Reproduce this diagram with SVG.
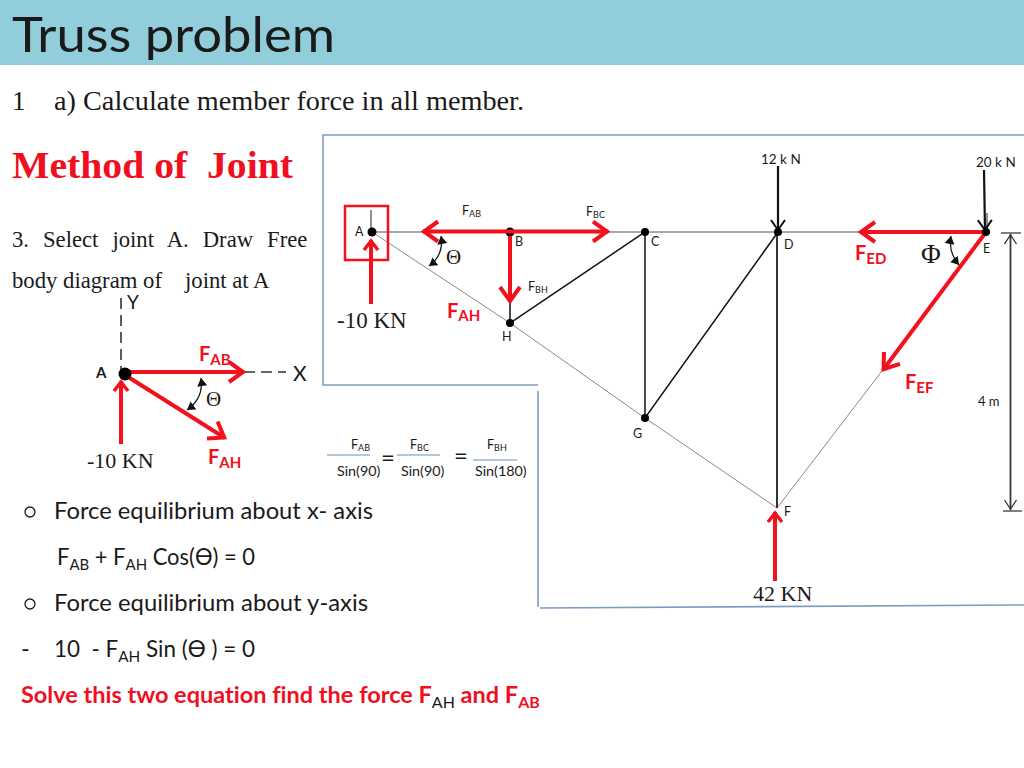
<svg xmlns="http://www.w3.org/2000/svg" width="1024" height="768" viewBox="0 0 1024 768">
<style>
.s{font-family:"Lato","Carlito","Liberation Sans",sans-serif;fill:#1a1a1a;font-variant-ligatures:none}
.t{font-family:"Liberation Serif","Times New Roman",serif;fill:#1a1a1a}
.r{fill:#f00f1e;font-weight:700}
.lb{font-size:12.5px}
.sub9{font-size:9px}
.rl{font-size:20px}
.rs{font-size:15px}
.b{font-size:23.5px}
.bs{font-size:16px}
.red{stroke:#f5101e;stroke-width:4;fill:none}
.blk{stroke:#111;fill:none}
.thin{stroke:#8a8a8a;stroke-width:1;fill:none}
.bl{stroke:#7f9bc4;stroke-width:1.6;fill:none}
.fr{stroke:#6f8fb5;stroke-width:1.2}
.jt{fill:#000}
</style>
<defs>
<marker id="rh" markerUnits="userSpaceOnUse" markerWidth="30" markerHeight="30" refX="19" refY="12" orient="auto"><path d="M4 2 L18 12 L4 22" fill="none" stroke="#f5101e" stroke-width="4"/></marker>
<marker id="rs" markerUnits="userSpaceOnUse" markerWidth="24" markerHeight="24" refX="13" refY="9" orient="auto"><path d="M3 2 L12 9 L3 16" fill="none" stroke="#f5101e" stroke-width="3.5"/></marker>
<marker id="kh" markerUnits="userSpaceOnUse" markerWidth="20" markerHeight="20" refX="13" refY="8" orient="auto"><path d="M2 1 L12 8 L2 15" fill="none" stroke="#111" stroke-width="2"/></marker>
<marker id="dh" markerUnits="userSpaceOnUse" markerWidth="16" markerHeight="16" refX="11" refY="7" orient="auto"><path d="M1 1 L10 7 L1 13" fill="none" stroke="#333" stroke-width="1.3"/></marker>
<marker id="ah" markerUnits="userSpaceOnUse" markerWidth="12" markerHeight="12" refX="8" refY="5" orient="auto"><path d="M0 0 L8 5 L0 10 Z" fill="#111"/></marker>
<marker id="as" markerUnits="userSpaceOnUse" markerWidth="12" markerHeight="12" refX="0" refY="5" orient="auto"><path d="M8 0 L0 5 L8 10 Z" fill="#111"/></marker>
</defs>
<rect width="1024" height="768" fill="#fff"/>
<rect width="1024" height="65" fill="#92cddc"/>
<text id="title" class="s" x="12" y="52" font-size="49" textLength="323" lengthAdjust="spacingAndGlyphs">Truss problem</text>
<text class="t" x="12" y="110" font-size="27">1</text>
<text class="t" x="54" y="110" font-size="27" textLength="470" lengthAdjust="spacingAndGlyphs">a) Calculate member force in all member.</text>
<text class="t" x="12" y="178" font-size="38.5" font-weight="700" style="fill:#f00f1e" textLength="281" lengthAdjust="spacingAndGlyphs" xml:space="preserve">Method of  Joint</text>
<text class="t" x="12" y="247" font-size="22.700" word-spacing="8.300" xml:space="preserve">3. Select joint A. Draw Free</text>
<text class="t" x="12" y="288" font-size="22.700">body diagram of<tspan x="185">joint at A</tspan></text>

<path class="bl" d="M1024 135 H323 V385 H538 M538 391 V607 M540 608 L1024 605"/>

<g id="node-B"><circle class="jt" cx="510" cy="232" r="4.500"/><text class="s lb" x="515" y="246">B</text></g>

<g id="connectors">
<path d="M372 232 H986" stroke="#555" stroke-width="1.2" fill="none"/>
<path class="thin" d="M372 232 L510 323 L645 418 L777 508 L882 371"/>
<path class="blk" stroke-width="1.5" d="M510 232 V323 L645 232 V418 L778 232"/>
<path stroke="#333" stroke-width="2" fill="none" d="M777 232 V508"/>
<path stroke="#555" stroke-width="1.3" fill="none" d="M371 210 V232 M987 213 V232"/>
<path d="M778 166 V231" stroke="#111" stroke-width="2.2" fill="none" marker-end="url(#kh)"/>
<path d="M984 170 L985 231" stroke="#111" stroke-width="2.2" fill="none" marker-end="url(#kh)"/>
<path d="M1001 233 H1021 M1003 511 H1022" stroke="#555" stroke-width="1.3" fill="none"/>
<path d="M1010.500 510 V234" stroke="#333" stroke-width="1.4" fill="none" marker-end="url(#dh)"/>
<path d="M1010.500 234 V510" stroke="#333" stroke-width="1.4" fill="none" marker-end="url(#dh)"/>
<rect x="345" y="206" width="43" height="54" fill="none" stroke="#f5101e" stroke-width="2.500"/>
<path class="red" d="M510 231.500 H423" marker-end="url(#rh)"/>
<path class="red" d="M510 231.500 H608" marker-end="url(#rh)"/>
<path class="red" d="M510 236 V302" marker-end="url(#rh)"/>
<path class="red" stroke-width="3.500" d="M371 304 V240" marker-end="url(#rs)"/>
<path class="red" d="M775 581 V512" marker-end="url(#rs)"/>
<path class="red" d="M985 232 H860" marker-end="url(#rh)"/>
<path class="red" d="M986 232 L883 370" marker-end="url(#rh)"/>
<path class="blk" stroke-width="1.2" d="M441 236 Q444 255 429 266" marker-start="url(#as)" marker-end="url(#ah)"/>
<path class="blk" stroke-width="1.2" d="M951 236 Q948 252 959 265" marker-start="url(#as)" marker-end="url(#ah)"/>
<path stroke="#333" stroke-width="1.600" stroke-dasharray="11 6" fill="none" d="M121 298 V372 M125 372 H286"/>
<path class="red" d="M125 372 H244" marker-end="url(#rh)"/>
<path class="red" d="M125 375 L225 438" marker-end="url(#rh)"/>
<path class="red" stroke-width="3.500" d="M121 444 V381" marker-end="url(#rs)"/>
<path class="blk" stroke-width="1.2" d="M201 378 Q204 398 187 410" marker-start="url(#as)" marker-end="url(#ah)"/>
<path class="fr" d="M327 455 H370 M397 455 H440 M473 460 H517"/>
</g>

<g id="node-A"><circle class="jt" cx="372" cy="232" r="4.500"/><text class="s lb" x="355" y="236">A</text></g>
<g id="node-C"><circle class="jt" cx="645" cy="232" r="4"/><text class="s lb" x="651" y="246">C</text></g>
<g id="node-D"><circle class="jt" cx="778" cy="232" r="4"/><text class="s lb" x="784" y="249">D</text></g>
<g id="node-E"><circle class="jt" cx="986" cy="232" r="4"/><text class="s lb" x="983" y="253">E</text></g>
<g id="node-H"><circle class="jt" cx="510" cy="323" r="4"/><text class="s lb" x="502" y="341">H</text></g>
<g id="node-G"><circle class="jt" cx="645" cy="418" r="4"/><text class="s lb" x="633" y="438">G</text></g>
<g id="node-F"><text class="s lb" x="784" y="516">F</text></g>
<g id="node-A2"><circle class="jt" cx="125" cy="374" r="6.500"/><text class="s" x="96" y="378" font-size="15" font-weight="700">A</text></g>

<g id="labels">
<text class="s" x="761" y="164" font-size="13.500">12 k N</text>
<text class="s" x="976" y="167" font-size="13.500">20 k N</text>
<text class="s lb" x="462" y="215">F<tspan class="sub9" dy="2">AB</tspan></text>
<text class="s lb" x="586" y="216">F<tspan class="sub9" dy="2">BC</tspan></text>
<text class="s lb" x="528" y="291">F<tspan class="sub9" dy="2">BH</tspan></text>
<text class="s" x="978" y="406" font-size="13">4 m</text>
<text class="t" x="446" y="264" font-size="21">Θ</text>
<text class="t" x="921" y="263" font-size="27">Φ</text>
<text class="t" x="337" y="328" font-size="23">-10 KN</text>
<text class="t" x="87" y="468" font-size="22">-10 KN</text>
<text class="t" x="753" y="601" font-size="22">42 KN</text>
<text class="t" x="206" y="406" font-size="21">Θ</text>
<text class="s" x="293" y="381" font-size="21">X</text>
<text class="s" x="127" y="309" font-size="19">Y</text>
<text class="s r rl" x="447" y="318">F<tspan class="rs" dy="3">AH</tspan></text>
<text class="s r rl" x="855" y="260">F<tspan class="rs" dy="4">ED</tspan></text>
<text class="s r rl" x="905" y="389">F<tspan class="rs" dy="4">EF</tspan></text>
<text class="s r rl" x="199" y="361">F<tspan class="rs" dy="4">AB</tspan></text>
<text class="s r rl" x="208" y="464">F<tspan class="rs" dy="4">AH</tspan></text>
<text class="s lb" x="351" y="449">F<tspan class="sub9" dy="2">AB</tspan></text>
<text class="s lb" x="410" y="449">F<tspan class="sub9" dy="2">BC</tspan></text>
<text class="s lb" x="487" y="449">F<tspan class="sub9" dy="2">BH</tspan></text>
<text class="s" x="337" y="476" font-size="14.300">Sin(90)</text>
<text class="s" x="401" y="476" font-size="14.300">Sin(90)</text>
<text class="s" x="475" y="476" font-size="14.300">Sin(180)</text>
<text class="s" x="381" y="466" font-size="24">=</text>
<text class="s" x="454" y="464" font-size="24">=</text>
<circle cx="30" cy="512" r="5" fill="none" stroke="#1a1a1a" stroke-width="1.300"/>
<circle cx="30" cy="604" r="5" fill="none" stroke="#1a1a1a" stroke-width="1.300"/>
<text class="s b" x="54" y="519" textLength="319" lengthAdjust="spacingAndGlyphs">Force equilibrium about x- axis</text>
<text class="s b" x="57" y="565" textLength="198" lengthAdjust="spacingAndGlyphs">F<tspan class="bs" dy="5">AB</tspan><tspan dy="-5"> + F</tspan><tspan class="bs" dy="5">AH</tspan><tspan dy="-5"> Cos(Ө) = 0</tspan></text>
<text class="s b" x="54" y="611" textLength="314" lengthAdjust="spacingAndGlyphs">Force equilibrium about y-axis</text>
<text class="s b" x="21" y="657">-</text>
<text class="s b" x="54" y="657" xml:space="preserve" textLength="201" lengthAdjust="spacingAndGlyphs">10  - F<tspan class="bs" dy="5">AH</tspan><tspan dy="-5"> Sin (Ө ) = 0</tspan></text>
<text class="s" x="21" y="703" font-size="23.500" font-weight="700" style="fill:#f00f1e">Solve this two equation find the force F<tspan class="bs" dy="5" style="font-weight:400;fill:#1a1a1a">AH</tspan><tspan dy="-5"> and F</tspan><tspan class="bs" dy="5">AB</tspan></text>
</g>
</svg>
